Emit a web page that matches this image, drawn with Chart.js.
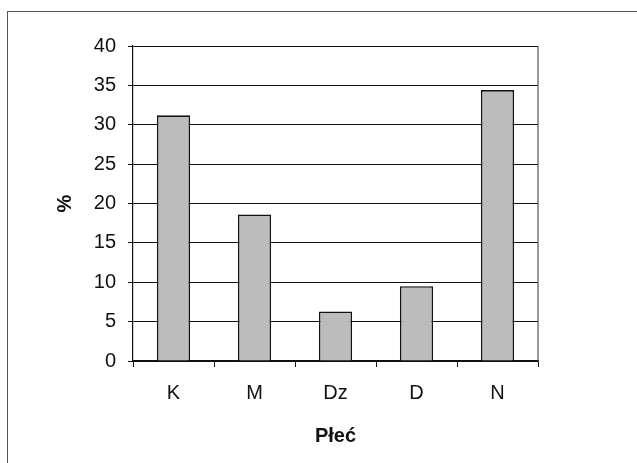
<!DOCTYPE html>
<html>
<head>
<meta charset="utf-8">
<script src="https://cdn.jsdelivr.net/npm/chart.js@4"></script>
<style>
  html, body { margin: 0; padding: 0; background: #fff; width: 637px; height: 463px; overflow: hidden; }
  #frame { position: absolute; left: 7px; top: 11px; width: 700px; height: 500px; border: 1px solid #555; box-sizing: border-box; }
  #wrap { position: absolute; left: 0; top: 0; width: 637px; height: 463px; }
</style>
</head>
<body>
<div id="frame"></div>
<div id="wrap"><canvas id="c" width="637" height="463"></canvas></div>
<script>
const categories = ['K', 'M', 'Dz', 'D', 'N'];
const values = [31.2, 18.6, 6.3, 9.5, 34.4];
const yTicks = [0, 5, 10, 15, 20, 25, 30, 35, 40];
const xTitle = 'Płeć';
const yTitle = '%';

const frameRight = {
  id: 'frameRight',
  afterDatasetsDraw(chart) {
    const a = chart.chartArea, ctx = chart.ctx;
    ctx.save();
    ctx.strokeStyle = '#555';
    ctx.lineWidth = 1.2;
    ctx.beginPath();
    ctx.moveTo(a.right, a.top);
    ctx.lineTo(a.right, a.bottom);
    ctx.stroke();
    ctx.restore();
  }
};

const FONT = 'Liberation Sans, Arial, sans-serif';

new Chart(document.getElementById('c'), {
  type: 'bar',
  data: {
    labels: categories,
    datasets: [{
      data: values,
      backgroundColor: '#bcbcbc',
      borderColor: '#111',
      borderWidth: 1.6,
      categoryPercentage: 1,
      barPercentage: 0.41
    }]
  },
  options: {
    responsive: false,
    animation: false,
    devicePixelRatio: 1,
    layout: { padding: { left: 49, right: 99, top: 46, bottom: 11 } },
    plugins: { legend: { display: false }, tooltip: { enabled: false } },
    scales: {
      x: {
        grid: { display: true, drawOnChartArea: false, drawTicks: true, tickLength: 6, color: '#111', offset: true },
        border: { display: true, color: '#111', width: 1.2 },
        ticks: { color: '#111', padding: 14, font: { family: FONT, size: 20 } },
        title: { display: true, text: xTitle, color: '#111', font: { family: FONT, size: 20, weight: 'bold' } },
        afterFit(s) { s.height = 91; }
      },
      y: {
        min: 0, max: 40,
        afterBuildTicks(s) { s.ticks = yTicks.map(v => ({ value: v })); },
        grid: { display: true, drawOnChartArea: true, drawTicks: true, tickLength: 5, color: '#111', lineWidth: 1 },
        border: { display: true, color: '#111', width: 1.2 },
        ticks: { color: '#111', padding: 12, font: { family: FONT, size: 20 } },
        title: { display: true, text: yTitle, color: '#111', font: { family: FONT, size: 20, weight: 'bold' } },
        afterFit(s) { s.width = 84; }
      }
    }
  },
  plugins: [frameRight]
});
</script>
</body>
</html>
